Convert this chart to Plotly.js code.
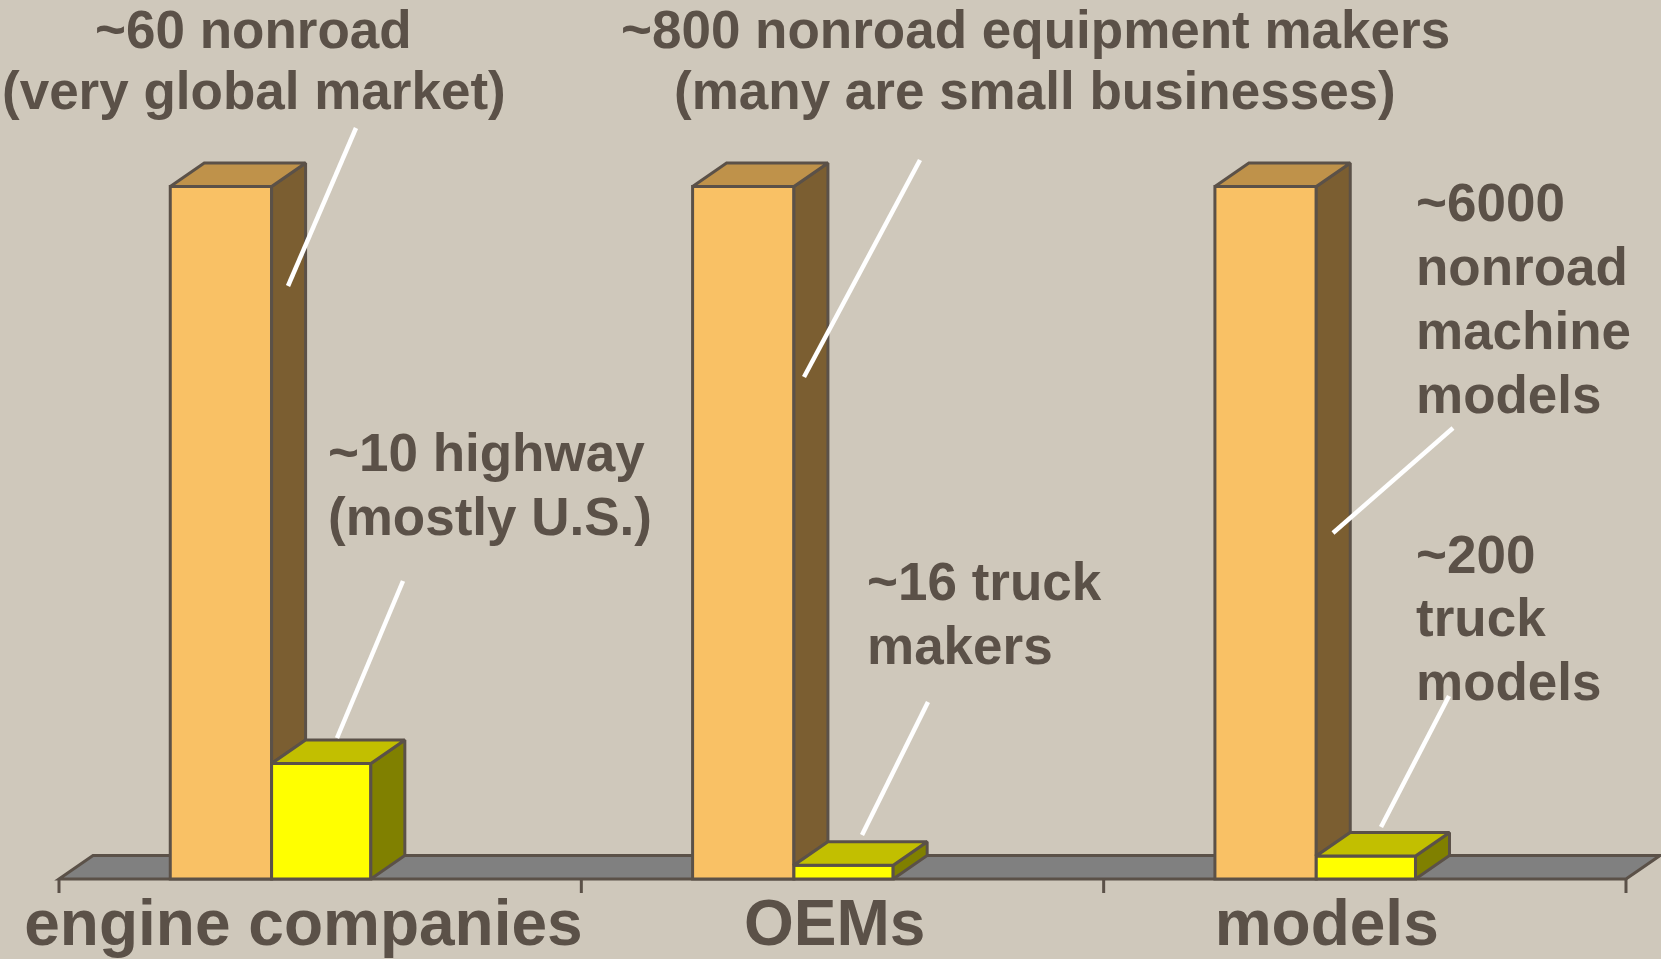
<!DOCTYPE html>
<html>
<head>
<meta charset="utf-8">
<script src="https://cdn.plot.ly/plotly-3.0.1.min.js"></script>
<style>html,body{margin:0;padding:0;background:#CFC8BB;}#chart{width:1661px;height:959px;}</style>
</head>
<body>
<div id="chart"></div>
<script>
// ---- data ----
const categories = ['engine companies', 'OEMs', 'models'];
const nonroadCounts = [60, 800, 6000];
const highwayCounts = [10, 16, 200];
const nonroadNotes = [
  ['~60 nonroad', '(very global market)'],
  ['~800 nonroad equipment makers', '(many are small businesses)'],
  ['~6000', 'nonroad', 'machine', 'models']
];
const highwayNotes = [
  ['~10 highway', '(mostly U.S.)'],
  ['~16 truck', 'makers'],
  ['~200', 'truck', 'models']
];

// ---- styling / geometry ----
const W = 1661, H = 959, MB = 64, PH = H - MB;
const pxPerX = 522.33, axisLeftPx = 59;
const pxPerY = 6.925, baseYpx = 879;
const xr0 = -0.5 - axisLeftPx / pxPerX;
const xr1 = -0.5 + (W - axisLeftPx) / pxPerX;
const yr0 = -(PH - baseYpx) / pxPerY;
const yr1 = baseYpx / pxPerY;
const dX = 34 / pxPerX, dY = 23.5 / pxPerY;
const nrOff = -0.287, nrW = 0.194, hwW = 0.19, hwOff = nrOff + nrW;

const C = {
  bg: '#CFC8BB', text: '#5B5148', edge: '#5B5148',
  nrFront: '#F9C165', nrSide: '#7B5E31', nrTop: '#BF924A',
  hwFront: '#FFFF00', hwSide: '#808000', hwTop: '#C2BF00',
  floor: '#808080'
};
const FONT = 'Liberation Sans, Arial, sans-serif';

const idx = categories.map((c, i) => i);
const nrPct = nonroadCounts.map((v, i) => v / nonroadCounts[i] * 100);
const hwPct = highwayCounts.map((v, i) => v / nonroadCounts[i] * 100);

function polys(list) {
  const x = [], y = [];
  list.forEach(p => { p.forEach(pt => { x.push(pt[0]); y.push(pt[1]); }); x.push(p[0][0]); y.push(p[0][1]); x.push(null); y.push(null); });
  return {x, y};
}
function face(list, color) {
  const p = polys(list);
  return {type: 'scatter', mode: 'lines', x: p.x, y: p.y, fill: 'toself', fillcolor: color,
    line: {color: C.edge, width: 3}, hoverinfo: 'skip', showlegend: false};
}

const nrSide = [], nrTop = [], hwSide = [], hwTop = [];
idx.forEach(i => {
  const xl = i + nrOff, xr = xl + nrW, xr2 = xr + hwW, h = nrPct[i], hh = hwPct[i];
  nrSide.push([[xr, hh], [xr + dX, hh + dY], [xr + dX, h + dY], [xr, h]]);
  nrTop.push([[xl, h], [xr, h], [xr + dX, h + dY], [xl + dX, h + dY]]);
  hwSide.push([[xr2, 0], [xr2 + dX, dY], [xr2 + dX, hh + dY], [xr2, hh]]);
  hwTop.push([[xr, hh], [xr2, hh], [xr2 + dX, hh + dY], [xr + dX, hh + dY]]);
});

const tickX = [], tickY = [];
for (let i = 0; i <= categories.length; i++) { tickX.push(i - 0.5, i - 0.5, null); tickY.push(0, -14 / pxPerY, null); }

const traces = [
  {type: 'bar', name: 'nonroad', x: idx, y: nrPct, width: nrW, offset: nrOff,
   marker: {color: C.nrFront, line: {color: C.edge, width: 3}}, hoverinfo: 'skip', showlegend: false},
  {type: 'bar', name: 'highway', x: idx, y: hwPct, width: hwW, offset: hwOff,
   marker: {color: C.hwFront, line: {color: C.edge, width: 3}}, hoverinfo: 'skip', showlegend: false},
  face(nrSide, C.nrSide),
  face(nrTop, C.nrTop),
  face(hwSide, C.hwSide),
  face(hwTop, C.hwTop),
  {type: 'scatter', mode: 'lines', x: tickX, y: tickY, line: {color: C.edge, width: 3}, hoverinfo: 'skip', showlegend: false}
];

// annotation helpers (pixel -> paper)
const px = v => v / W;
const py = v => 1 - v / PH;
const FS = 53;
const noteAnchors = {
  nonroad: [{x: 254, base: 48, step: 61, a: 'center'}, {x: 1035, base: 48, step: 61, a: 'center'}, {x: 1415, base: 221, step: 64, a: 'left'}],
  highway: [{x: 327, base: 471, step: 64, a: 'left'}, {x: 866, base: 600, step: 64, a: 'left'}, {x: 1415, base: 573, step: 63.5, a: 'left'}]
};
const annotations = [];
function addNotes(notes, anchors) {
  notes.forEach((lines, i) => {
    const an = anchors[i];
    lines.forEach((t, j) => {
      annotations.push({text: t, xref: 'paper', yref: 'paper', x: px(an.x), y: py(an.base + j * an.step - 0.35 * FS),
        xanchor: an.a, yanchor: 'middle', showarrow: false, borderpad: 0,
        font: {family: FONT, size: FS, color: C.text, weight: 'bold'}});
    });
  });
}
addNotes(nonroadNotes, noteAnchors.nonroad);
addNotes(highwayNotes, noteAnchors.highway);

const leaders = [
  [356, 128, 288, 286], [920, 160, 804, 377], [1453, 428, 1333, 533],
  [403, 581, 337, 738], [928, 702, 862, 835], [1449, 696, 1381, 827]
];
const shapes = [
  {type: 'path', xref: 'x', yref: 'y', layer: 'below',
   path: `M ${-0.5},0 L ${-0.5 + dX},${dY} L ${categories.length - 0.5 + dX},${dY} L ${categories.length - 0.5},0 Z`,
   fillcolor: C.floor, line: {color: C.edge, width: 3}}
].concat(leaders.map(l => ({type: 'line', xref: 'paper', yref: 'paper', x0: px(l[0]), y0: py(l[1]), x1: px(l[2]), y1: py(l[3]),
   line: {color: '#FFFFFF', width: 4.5}})));

const labelNudge = [-0.032, -0.015, -0.073];
const layout = {
  width: W, height: H,
  margin: {l: 0, r: 0, t: 0, b: MB, pad: 0},
  paper_bgcolor: C.bg, plot_bgcolor: C.bg,
  barmode: 'overlay',
  hovermode: false,
  showlegend: false,
  xaxis: {range: [xr0, xr1], showgrid: false, zeroline: false, showline: false, ticks: '',
    tickmode: 'array', tickvals: idx.map(i => i + labelNudge[i]), ticktext: categories,
    ticklabelstandoff: -15,
    tickfont: {family: FONT, size: 64, color: C.text, weight: 'bold'}, fixedrange: true},
  yaxis: {range: [yr0, yr1], visible: false, fixedrange: true},
  shapes: shapes,
  annotations: annotations
};
Plotly.newPlot('chart', traces, layout, {displayModeBar: false, staticPlot: true});
</script>
</body>
</html>
